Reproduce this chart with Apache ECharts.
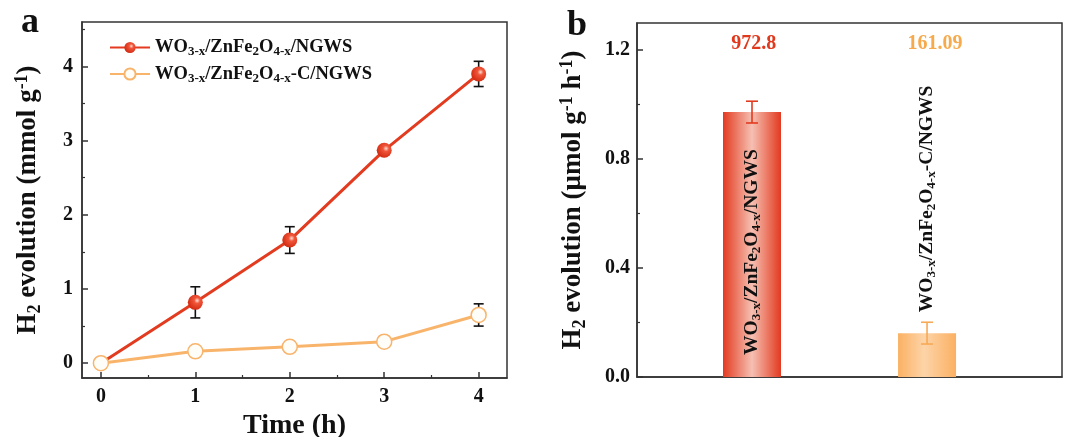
<!DOCTYPE html>
<html><head><meta charset="utf-8">
<script src="https://cdn.jsdelivr.net/npm/echarts@6/dist/echarts.min.js"></script>
<style>html,body{margin:0;padding:0;background:#fff}#c{width:1067px;height:437px}</style>
</head><body><div id="c"></div>
<script>
// ---- data ----
const timeH = [0, 1, 2, 3, 4];
const seriesA = [0, 0.82, 1.66, 2.87, 3.90];          // WO3-x/ZnFe2O4-x/NGWS
const seriesAErr = [0, 0.21, 0.18, 0.06, 0.17];
const seriesB = [0, 0.16, 0.22, 0.29, 0.65];          // WO3-x/ZnFe2O4-x-C/NGWS
const seriesBErr = [0, 0.05, 0.07, 0.07, 0.15];
const xTicks = [0, 1, 2, 3, 4];
const yTicksA = [0, 1, 2, 3, 4];
const rates = [972.8, 161.09];                        // µmol g-1 h-1 labels
const barValues = [0.9728, 0.16109];                  // plotted bar heights
const barErr = [0.04, 0.04];
const yTicksB = [0, 0.4, 0.8, 1.2];

const FF = '"Liberation Serif","Times New Roman",serif';
const RED = '#e33b1f', ORANGE = '#f9b46c';
function rich(fs, color) {
  const s = Math.round(fs * 0.68);
  return {
    t: {fontFamily: FF, fontWeight: 'bold', fontSize: fs, color: color},
    s: {fontFamily: FF, fontWeight: 'bold', fontSize: s, color: color, padding: [Math.round(fs*0.5),0,0,0]},
    p: {fontFamily: FF, fontWeight: 'bold', fontSize: s, color: color, padding: [0,0,Math.round(fs*0.45),0]}
  };
}
const nameA = '{t|WO}{s|3-x}{t|/ZnFe}{s|2}{t|O}{s|4-x}{t|/NGWS}';
const nameB = '{t|WO}{s|3-x}{t|/ZnFe}{s|2}{t|O}{s|4-x}{t|-C/NGWS}';
const names = ['WO3-x/ZnFe2O4-x/NGWS', 'WO3-x/ZnFe2O4-x-C/NGWS'];
const richNames = {'WO3-x/ZnFe2O4-x/NGWS': nameA, 'WO3-x/ZnFe2O4-x-C/NGWS': nameB};

function errRender(color, cap) {
  return function (params, api) {
    const x = api.value(0), y = api.value(1), e = api.value(2);
    if (!e) return null;
    const top = api.coord([x, y + e]), bot = api.coord([x, y - e]);
    const st = {stroke: color, lineWidth: 1.6};
    return {type: 'group', children: [
      {type: 'line', shape: {x1: top[0], y1: top[1], x2: bot[0], y2: bot[1]}, style: st},
      {type: 'line', shape: {x1: top[0]-cap, y1: top[1], x2: top[0]+cap, y2: top[1]}, style: st},
      {type: 'line', shape: {x1: bot[0]-cap, y1: bot[1], x2: bot[0]+cap, y2: bot[1]}, style: st}
    ]};
  };
}

const axisLineStyle = {show: true, onZero: false, lineStyle: {color: '#333', width: 1.5}};
const hiddenLine = {show: false, onZero: false};
const tickLab = {fontFamily: FF, fontWeight: 'bold', fontSize: 20, color: '#111'};

const option = {
  animation: false,
  grid: [
    {left: 82, top: 22, width: 425, height: 356, show: true, borderColor: '#333', borderWidth: 1.5, outerBoundsMode: 'none', containLabel: false},
    {left: 637, top: 23, width: 425, height: 354, show: true, borderColor: '#333', borderWidth: 1.5, outerBoundsMode: 'none', containLabel: false}
  ],
  legend: {
    left: 104, top: 33, orient: 'vertical', itemWidth: 40, itemHeight: 14, itemGap: 6,
    data: names,
    formatter: n => richNames[n],
    textStyle: {rich: rich(18.5, '#111')}
  },
  graphic: [
    {type: 'text', left: 21, top: 5, style: {text: 'a', fontFamily: FF, fontWeight: 'bold', fontSize: 36, fill: '#111'}},
    {type: 'text', left: 567, top: 8, style: {text: 'b', fontFamily: FF, fontWeight: 'bold', fontSize: 36, fill: '#111'}}
  ],
  xAxis: [
    {gridIndex: 0, type: 'value', position: 'bottom', min: -0.2, max: 4.3, axisLine: axisLineStyle,
     splitLine: {show: false},
     axisTick: {inside: true, length: 6, customValues: xTicks, lineStyle: {color: '#333', width: 1.5}},
     axisLabel: {customValues: xTicks, margin: 9, ...tickLab},
     name: 'Time (h)', nameLocation: 'middle', nameGap: 30,
     nameTextStyle: {fontFamily: FF, fontWeight: 'bold', fontSize: 28, color: '#111'}},
    {gridIndex: 0, type: 'value', position: 'bottom', offset: 0, min: -0.2, max: 4.3, axisLine: hiddenLine, splitLine: {show: false},
     axisTick: {inside: true, length: 3, customValues: [0.5, 1.5, 2.5, 3.5], lineStyle: {color: '#333', width: 1.2}},
     axisLabel: {show: false}},
    {gridIndex: 1, type: 'value', position: 'bottom', min: 0.343, max: 2.771, axisLine: axisLineStyle,
     splitLine: {show: false}, axisTick: {show: false}, axisLabel: {show: false}}
  ],
  yAxis: [
    {gridIndex: 0, type: 'value', position: 'left', min: -0.2, max: 4.6, axisLine: axisLineStyle, splitLine: {show: false},
     axisTick: {inside: true, length: 6, customValues: yTicksA, lineStyle: {color: '#333', width: 1.5}},
     axisLabel: {customValues: yTicksA, margin: 9, ...tickLab},
     name: '{t|H}{s|2}{t| evolution (mmol g}{p|-1}{t|)}', nameLocation: 'middle', nameGap: 38,
     nameTextStyle: {rich: rich(27, '#111')}},
    {gridIndex: 0, type: 'value', position: 'left', offset: 0, min: -0.2, max: 4.6, axisLine: hiddenLine, splitLine: {show: false},
     axisTick: {inside: true, length: 3, customValues: [0.5, 1.5, 2.5, 3.5, 4.5], lineStyle: {color: '#333', width: 1.2}},
     axisLabel: {show: false}},
    {gridIndex: 1, type: 'value', position: 'left', min: 0, max: 1.3, axisLine: axisLineStyle, splitLine: {show: false},
     axisTick: {inside: true, length: 6, customValues: yTicksB, lineStyle: {color: '#333', width: 1.5}},
     axisLabel: {customValues: yTicksB, margin: 7, formatter: v => v.toFixed(1), ...tickLab},
     name: '{t|H}{s|2}{t| evolution (μmol g}{p|-1}{t| h}{p|-1}{t|)}', nameLocation: 'middle', nameGap: 48,
     nameTextStyle: {rich: rich(27, '#111')}},
    {gridIndex: 1, type: 'value', position: 'left', offset: 0, min: 0, max: 1.3, axisLine: hiddenLine, splitLine: {show: false},
     axisTick: {inside: true, length: 3, customValues: [0.2, 0.6, 1.0], lineStyle: {color: '#333', width: 1.2}},
     axisLabel: {show: false}}
  ],
  series: [
    {type: 'custom', xAxisIndex: 0, yAxisIndex: 0, z: 1, silent: true,
     renderItem: errRender('#111', 5),
     data: timeH.map((t, i) => [t, seriesA[i], seriesAErr[i]])},
    {type: 'custom', xAxisIndex: 0, yAxisIndex: 0, z: 1, silent: true,
     renderItem: errRender('#111', 5),
     data: timeH.map((t, i) => [t, seriesB[i], seriesBErr[i]])},
    {name: names[0], type: 'line', xAxisIndex: 0, yAxisIndex: 0, z: 3,
     data: timeH.map((t, i) => [t, seriesA[i]]),
     symbol: 'circle', symbolSize: 15,
     lineStyle: {color: RED, width: 3},
     itemStyle: {color: {type: 'radial', x: 0.62, y: 0.38, r: 0.65,
       colorStops: [{offset: 0, color: '#fde0d6'}, {offset: 0.3, color: '#f0563a'}, {offset: 1, color: '#d22a10'}]},
       borderWidth: 0}},
    {name: names[1], type: 'line', xAxisIndex: 0, yAxisIndex: 0, z: 4,
     data: timeH.map((t, i) => [t, seriesB[i]]),
     symbol: 'circle', symbolSize: 15,
     lineStyle: {color: ORANGE, width: 3},
     itemStyle: {color: '#fffdf8', borderColor: ORANGE, borderWidth: 1.5}},
    {type: 'bar', xAxisIndex: 2, yAxisIndex: 2, barWidth: 58, z: 2,
     data: barValues.map((v, i) => ({
       value: [i + 1, v],
       itemStyle: {color: {type: 'linear', x: 0, y: 0, x2: 1, y2: 0, colorStops: i === 0 ?
         [{offset: 0, color: '#e33a20'}, {offset: 0.5, color: '#f6c0b2'}, {offset: 1, color: '#e33a20'}] :
         [{offset: 0, color: '#fbb163'}, {offset: 0.45, color: '#fdd4a8'}, {offset: 1, color: '#fbb062'}]}},
       label: {show: true, rotate: 90, align: 'left', verticalAlign: 'middle',
         position: i === 0 ? 'insideBottom' : 'top', distance: i === 0 ? 22 : 21,
         formatter: () => i === 0 ? nameA : nameB, rich: rich(19.5, '#111')}
     }))},
    {type: 'custom', xAxisIndex: 2, yAxisIndex: 2, z: 5, silent: true,
     renderItem: function (params, api) {
       const c = [RED, '#f7a955'][params.dataIndex];
       return errRender(c, 6)(params, api);
     },
     data: barValues.map((v, i) => [i + 1, v, barErr[i]])},
    {type: 'scatter', xAxisIndex: 2, yAxisIndex: 2, symbolSize: 0, silent: true,
     itemStyle: {opacity: 1},
     data: rates.map((r, i) => ({value: [i + 1 + (i === 0 ? 0.01 : 0.045), 1.225, r],
       label: {color: i === 0 ? '#e0391d' : '#f7aa4c'}})),
     label: {show: true, position: 'inside', opacity: 1, formatter: p => String(p.value[2]),
       fontFamily: FF, fontWeight: 'bold', fontSize: 20}}
  ]
};
echarts.init(document.getElementById('c')).setOption(option);
</script></body></html>
